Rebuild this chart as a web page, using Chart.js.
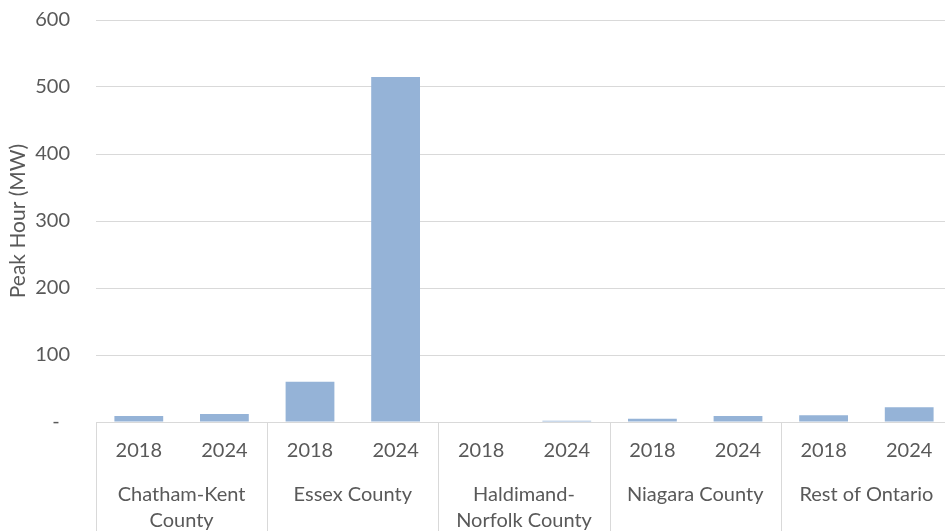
<!DOCTYPE html>
<html>
<head>
<meta charset="utf-8">
<script src="https://cdn.jsdelivr.net/npm/chart.js@4.4.1/dist/chart.umd.min.js"></script>
<style>
  html, body { margin: 0; padding: 0; background: #fff; overflow: hidden; }
  #wrap { width: 952px; height: 536px; position: relative; }
</style>
</head>
<body>
<div id="wrap"><canvas id="myChart"></canvas></div>
<script>
// regions and years (two-level category axis)
var regions = [['Chatham-Kent', 'County'], 'Essex County', ['Haldimand-', 'Norfolk County'], 'Niagara County', 'Rest of Ontario'];
var years = ['2018', '2024'];
// peak hour in MW, in order region by region, 2018 then 2024
var peakHour = [9, 12, 60, 515, 0, 2, 5, 9, 10, 22];
var yTicks = [0, 100, 200, 300, 400, 500, 600];

var labels = [];
for (var i = 0; i < regions.length; i++) {
    for (var j = 0; j < years.length; j++) {
        labels.push(years[j]);
    }
}

var gridColor = '#d9d9d9';
var textColor = '#595959';
var font = { family: 'Lato', size: 20 };

// vertical separators between regions, below the axis line
var groupLines = {
    id: 'groupLines',
    afterDraw: function(chart) {
        var ctx = chart.ctx;
        var x = chart.scales.x;
        var top = chart.chartArea.bottom;
        var slot = (x.getPixelForValue(1) - x.getPixelForValue(0));
        ctx.save();
        ctx.strokeStyle = gridColor;
        ctx.lineWidth = 1;
        for (var g = 0; g <= regions.length; g++) {
            var px = Math.round(x.getPixelForValue(g * 2) - slot / 2) + 0.5;
            ctx.beginPath();
            ctx.moveTo(px, top);
            ctx.lineTo(px, chart.height);
            ctx.stroke();
        }
        ctx.restore();
    }
};

var chart = new Chart('myChart', {
    type: 'bar',
    data: {
        labels: labels,
        datasets: [{
            data: peakHour,
            backgroundColor: '#95b3d7',
            borderWidth: 0,
            barPercentage: 0.57,
            categoryPercentage: 1
        }]
    },
    options: {
        responsive: true,
        maintainAspectRatio: false,
        animation: false,
        layout: { padding: { top: 20, right: 0, left: 4, bottom: 0 } },
        plugins: { legend: { display: false }, tooltip: { enabled: false } },
        scales: {
            x: {
                offset: true,
                grid: { display: false },
                border: { display: true, color: gridColor },
                ticks: { color: textColor, font: font, padding: 9, maxRotation: 0 }
            },
            x2: {
                type: 'category',
                position: 'bottom',
                labels: regions,
                offset: true,
                grid: { display: false },
                border: { display: false },
                ticks: { color: textColor, font: { family: 'Lato', size: 20, lineHeight: 1.3 }, padding: 2, maxRotation: 0, autoSkip: false }
            },
            y: {
                min: 0,
                max: 600,
                afterBuildTicks: function(scale) {
                    scale.ticks = yTicks.map(function(v) { return { value: v }; });
                },
                afterFit: function(scale) {
                    // fixed axis width, no extra top/bottom padding from the tick padding
                    scale.width = 92;
                    scale.paddingTop = 0;
                    scale.paddingBottom = 0;
                },
                grid: { color: gridColor, drawTicks: false },
                border: { display: false },
                title: { display: true, text: 'Peak Hour (MW)', color: textColor, font: { family: 'Lato', size: 21 }, padding: 2 },
                ticks: {
                    color: textColor,
                    font: font,
                    padding: 26,
                    callback: function(v) { return v === 0 ? '-  ' : v; }
                }
            }
        }
    },
    plugins: [groupLines]
});
</script>
</body>
</html>
